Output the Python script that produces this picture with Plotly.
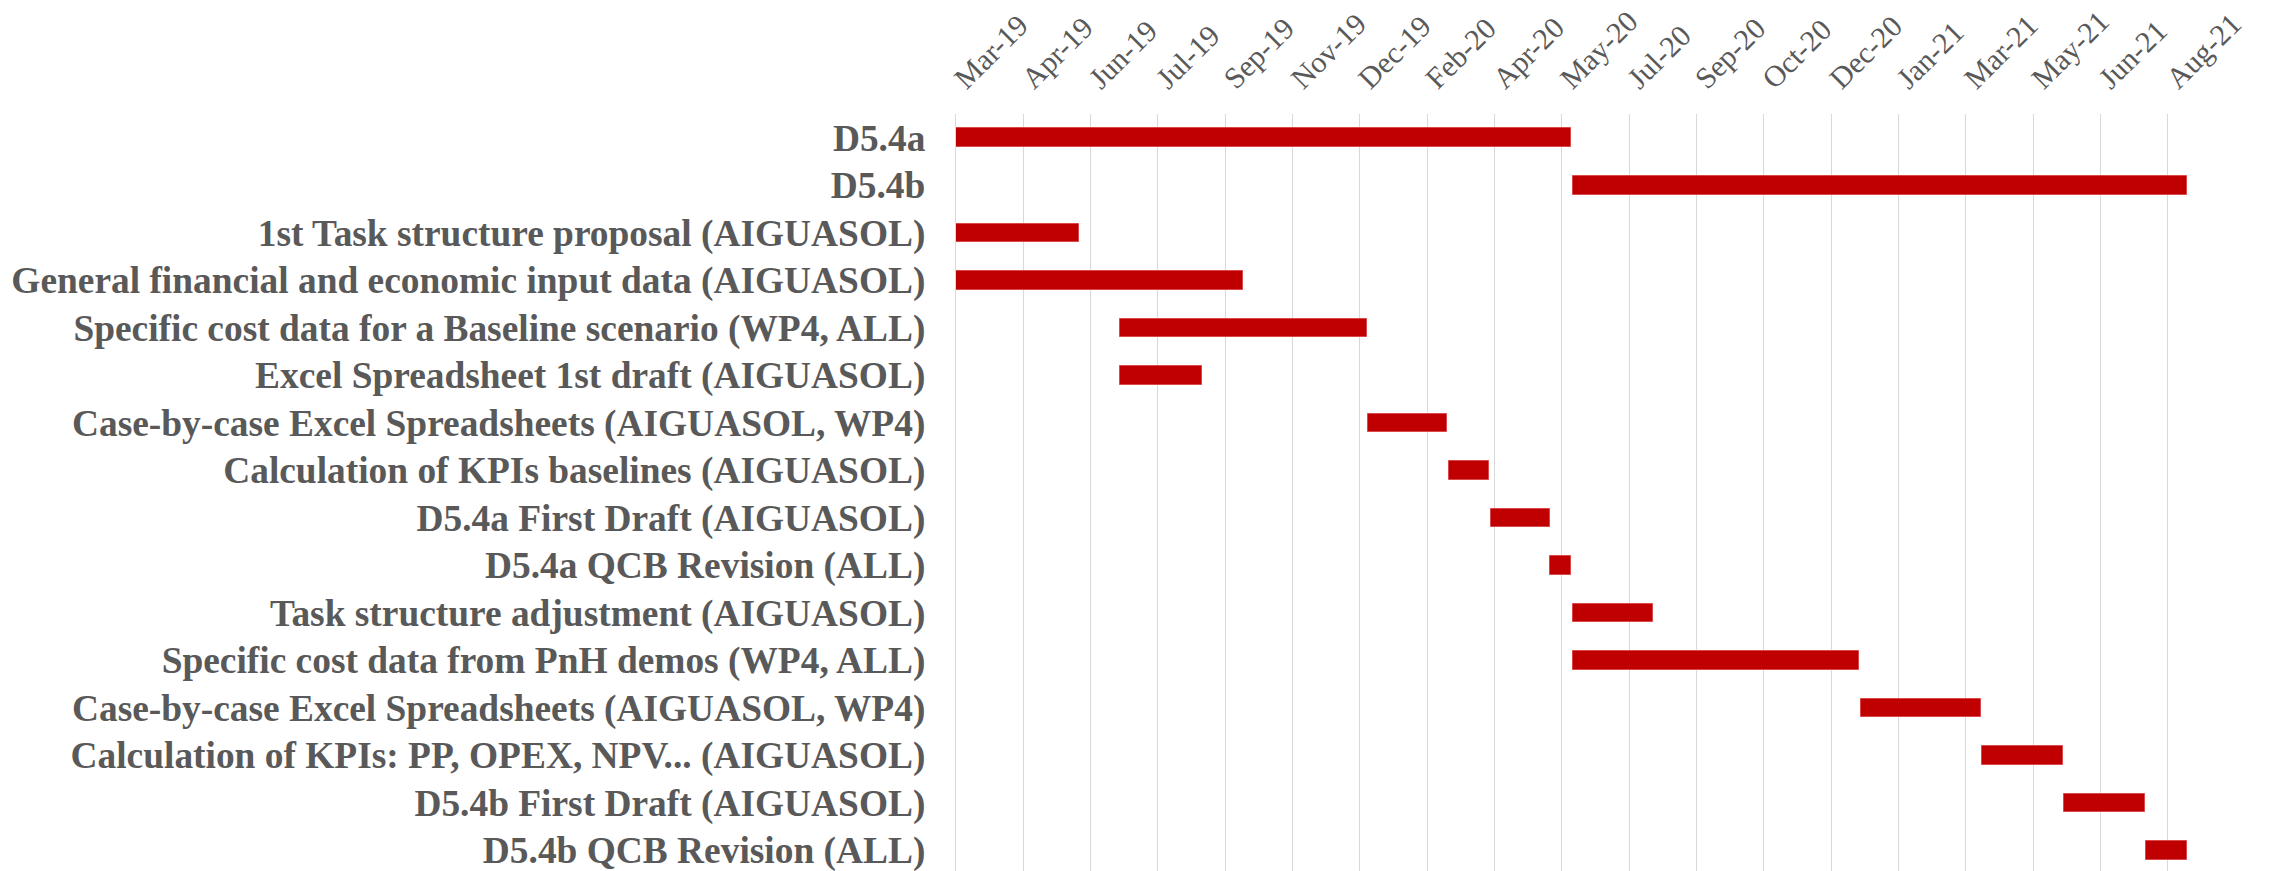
import plotly.graph_objects as go
import pandas as pd

tasks = [
    "D5.4a",
    "D5.4b",
    "1st Task structure proposal (AIGUASOL)",
    "General financial and economic input data (AIGUASOL)",
    "Specific cost data for a Baseline scenario (WP4, ALL)",
    "Excel Spreadsheet 1st draft (AIGUASOL)",
    "Case-by-case Excel Spreadsheets (AIGUASOL, WP4)",
    "Calculation of KPIs baselines (AIGUASOL)",
    "D5.4a First Draft (AIGUASOL)",
    "D5.4a QCB Revision (ALL)",
    "Task structure adjustment (AIGUASOL)",
    "Specific cost data from PnH demos (WP4, ALL)",
    "Case-by-case Excel Spreadsheets (AIGUASOL, WP4)",
    "Calculation of KPIs: PP, OPEX, NPV... (AIGUASOL)",
    "D5.4b First Draft (AIGUASOL)",
    "D5.4b QCB Revision (ALL)",
]
start_dates = [
    "2019-03-01", "2020-06-01", "2019-03-01", "2019-03-01",
    "2019-07-01", "2019-07-01", "2020-01-01", "2020-03-01",
    "2020-04-01", "2020-05-15", "2020-06-01", "2020-06-01",
    "2021-01-01", "2021-04-01", "2021-06-01", "2021-08-01",
]
end_dates = [
    "2020-05-31", "2021-08-31", "2019-05-31", "2019-09-30",
    "2019-12-31", "2019-08-31", "2020-02-29", "2020-03-31",
    "2020-05-15", "2020-05-31", "2020-07-31", "2020-12-31",
    "2021-03-31", "2021-05-31", "2021-07-31", "2021-08-31",
]
tick_start = "2019-03-01"
tick_step_days = 50
x_range = ["2019-03-01", "2021-09-01"]

s = pd.to_datetime(start_dates)
e = pd.to_datetime(end_dates)
dur_ms = list((e - s).total_seconds() * 1000)
row_pos = list(range(len(tasks)))

fig = go.Figure()
fig.add_trace(go.Bar(
    y=row_pos, x=dur_ms, base=start_dates, orientation="h",
    marker=dict(color="#C00000", line=dict(color="#D9484A", width=1)),
    width=0.39, showlegend=False, hoverinfo="skip",
))

fig.update_layout(
    width=2272, height=871,
    margin=dict(l=956, r=84, t=114, b=0, autoexpand=False),
    paper_bgcolor="white", plot_bgcolor="white",
    bargap=0,
)
fig.update_xaxes(
    type="date", side="top", range=x_range,
    tick0=tick_start, dtick=tick_step_days * 86400000,
    tickformat="%b-%y", tickangle=-45,
    showgrid=True, gridcolor="#D9D9D9", gridwidth=1.3,
    zeroline=False, showline=False, ticks="",
    tickfont=dict(family="Liberation Serif", size=30, color="#595959"),
    ticklabelstandoff=12, ticklabeloverflow="allow", automargin=False,
)
fig.update_yaxes(
    tickmode="array", tickvals=row_pos, ticktext=tasks,
    range=[15.434, -0.5],
    showgrid=False, zeroline=False,
    showline=True, linecolor="#D9D9D9", linewidth=1.3,
    ticks="",
    tickfont=dict(family="Liberation Serif", size=37.4, color="#595959", weight="bold"),
    ticklabelstandoff=22, ticklabeloverflow="allow", automargin=False,
)

fig.write_html(
    "out.html",
    config={"displayModeBar": False},
    post_script="document.body.style.margin='0';document.body.style.overflow='hidden';",
)
